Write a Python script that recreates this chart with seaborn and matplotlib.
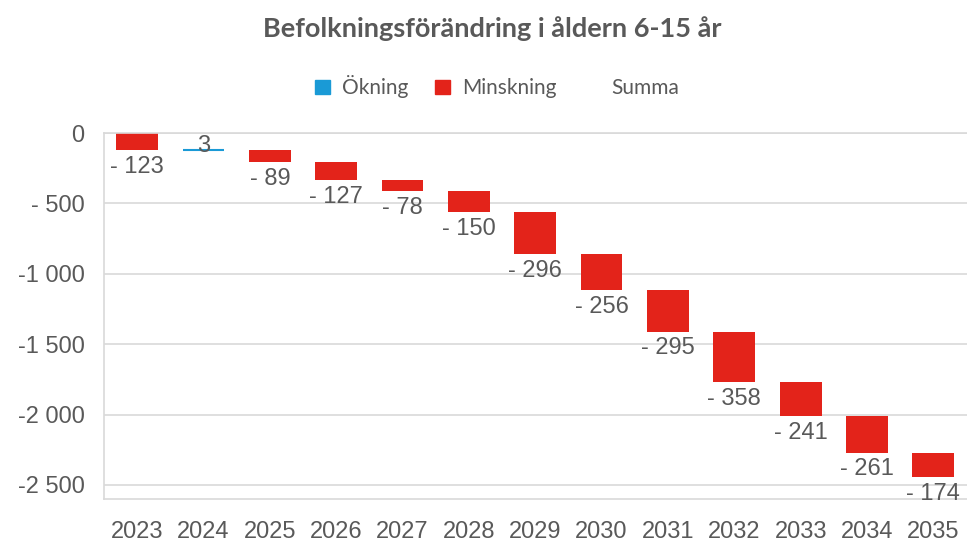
import numpy as np
import pandas as pd
import matplotlib
matplotlib.use("Agg")
import matplotlib.pyplot as plt
import seaborn as sns
from matplotlib.patches import Patch

years = ["2023", "2024", "2025", "2026", "2027", "2028", "2029",
         "2030", "2031", "2032", "2033", "2034", "2035"]
changes = [-123, 3, -89, -127, -78, -150, -296, -256, -295, -358, -241, -261, -174]
y_ticks = [0, -500, -1000, -1500, -2000, -2500]
y_tick_labels = ["0", "- 500", "-1 000", "-1 500", "-2 000", "-2 500"]

blue = "#1a9ad6"
red = "#e3231a"
grey = "#595959"

df = pd.DataFrame({"year": years, "change": changes})
df["end"] = df["change"].cumsum()
df["start"] = df["end"] - df["change"]
df["kind"] = np.where(df["change"] > 0, "Ökning", "Minskning")

sns.set_theme(style="white")
plt.rcParams["font.family"] = ["Liberation Sans", "DejaVu Sans"]
title_font = ["Lato", "DejaVu Sans"]

fig = plt.figure(figsize=(9.67, 5.43), dpi=100)
ax = fig.add_axes([0.1075, 0.081, 0.892, 0.674])

# waterfall: each bar starts where the previous one ended
for kind, col, lw in [("Minskning", red, 0), ("Ökning", blue, 1.5)]:
    sub = df[df["kind"] == kind]
    sns.barplot(data=sub, x="year", y="change", order=years, color=col,
                width=0.63, errorbar=None, bottom=sub["start"].values,
                saturation=1, linewidth=lw, edgecolor=col, ax=ax)

for i, row in df.iterrows():
    v = row["change"]
    if v < 0:
        ax.annotate(f"- {abs(v):,}".replace(",", " "), (i, row["end"]),
                    xytext=(0, -4), textcoords="offset points",
                    ha="center", va="top", fontsize=17, color=grey)
    else:
        ax.annotate(f"{v:,}".replace(",", " "), (i, row["end"]),
                    xytext=(0, 3), textcoords="offset points",
                    ha="center", va="center", fontsize=17, color=grey)

ax.set_ylim(-2600, 0)
ax.set_xlim(-0.5, len(years) - 0.5)
ax.set_yticks(y_ticks)
ax.set_yticklabels(y_tick_labels)
ax.yaxis.grid(True, color="#d9d9d9", linewidth=1.2)
ax.set_axisbelow(True)
ax.set_xlabel("")
ax.set_ylabel("")
ax.tick_params(axis="x", labelsize=17, colors=grey, pad=16, length=0)
ax.tick_params(axis="y", labelsize=17, colors=grey, pad=14, length=0)
for s in ["left", "top", "bottom"]:
    ax.spines[s].set_color("#d9d9d9")
    ax.spines[s].set_linewidth(1.2)
ax.spines["right"].set_visible(False)

handles = [Patch(color=blue), Patch(color=red), Patch(color="white")]
leg = fig.legend(handles, ["Ökning", "Minskning", "Summa"], loc="center",
                 bbox_to_anchor=(0.514, 0.84), ncol=3, frameon=False,
                 handlelength=0.7, handleheight=0.7, handletextpad=0.6,
                 columnspacing=1.3, prop={"family": title_font, "size": 15})
for t in leg.get_texts():
    t.set_color(grey)

fig.text(0.509, 0.948, "Befolkningsförändring i åldern 6-15 år", ha="center",
         va="center", fontsize=19.5, fontweight="bold", color=grey, family=title_font)

fig.savefig("out.png", dpi=100)
